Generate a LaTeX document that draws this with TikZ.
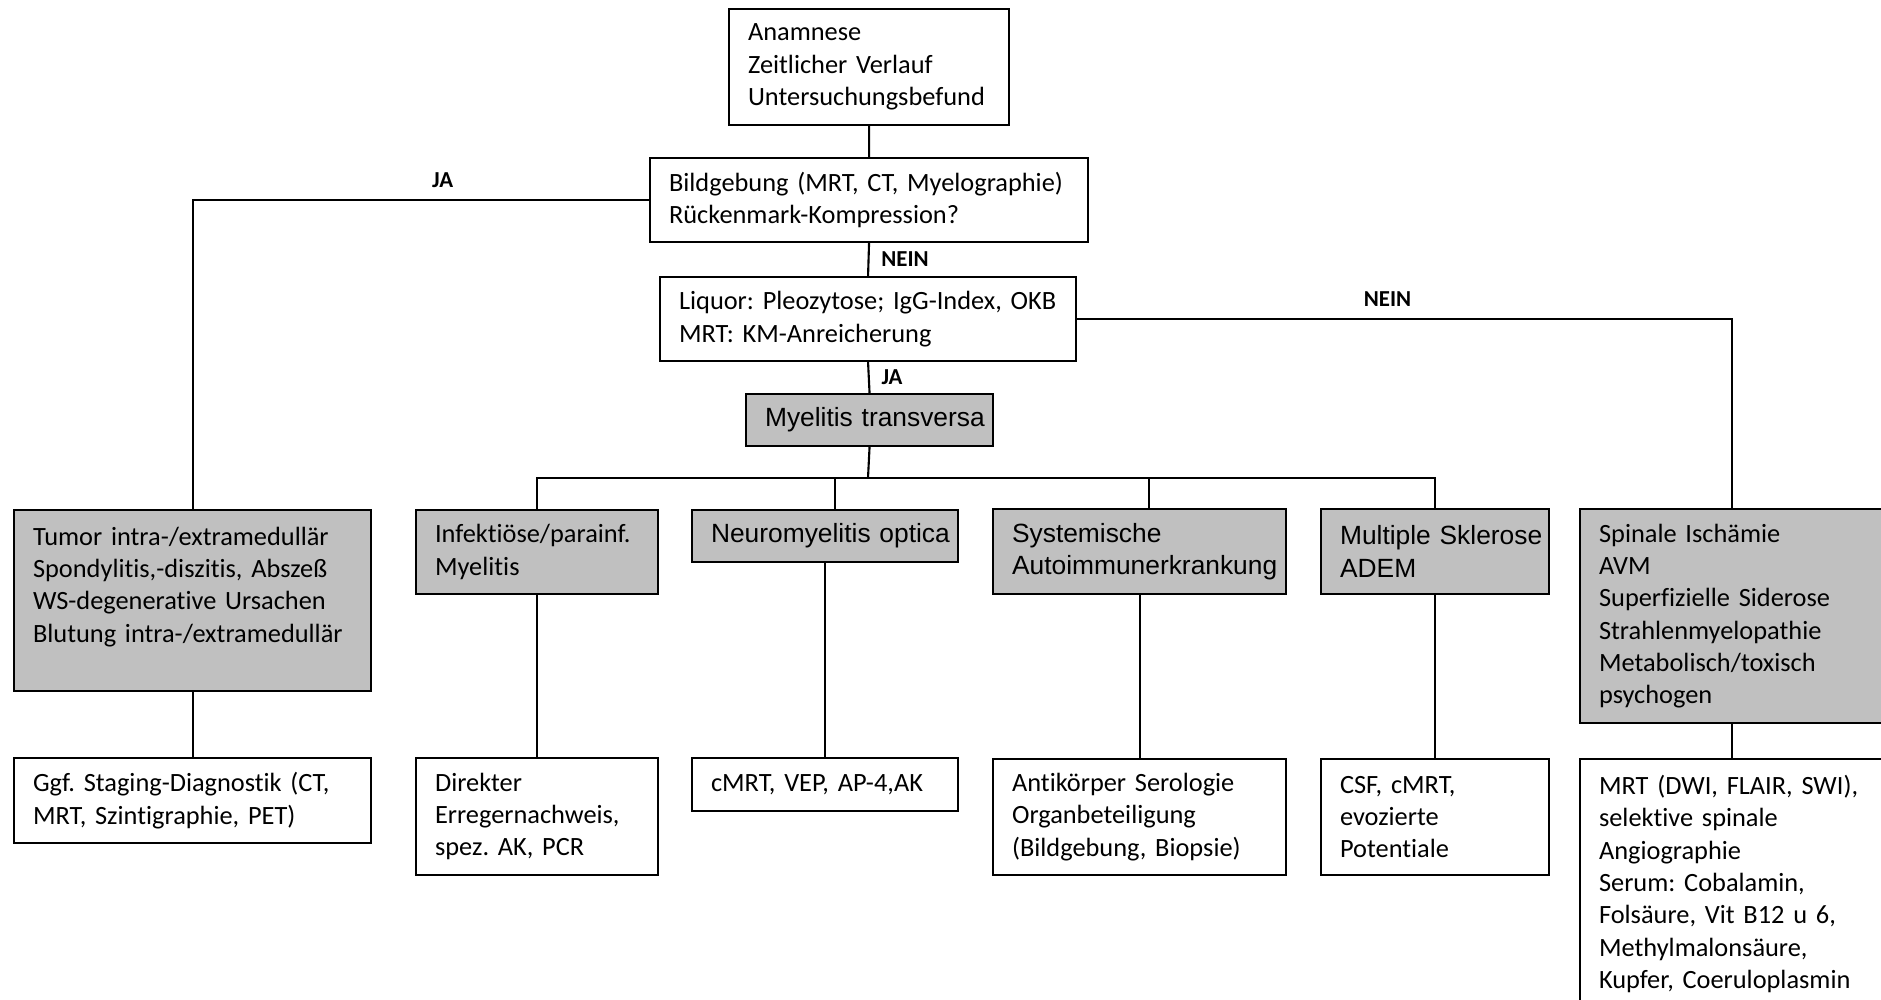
\documentclass[tikz,border=0pt]{standalone}
\usepackage{fontspec}
\setmainfont{Carlito}[Ligatures=NoCommon]
\newfontfamily\arialfont{Liberation Sans}
\definecolor{boxgray}{RGB}{192,192,192}
\frenchspacing

\begin{document}
\begin{tikzpicture}
\tikzstyle{whitebox} = [draw, line width=0.6pt, fill=white, anchor=north west, align=left, inner sep=0.02cm, font=\fontsize{7.5}{9.2}\selectfont, execute at begin node={\leftskip=0.17cm}]
\tikzstyle{greybox} = [whitebox, fill=boxgray]
\tikzstyle{greyarial} = [greybox, font=\arialfont\fontsize{7.5}{9.2}\selectfont]
\tikzstyle{answer} = [font=\fontsize{6.5}{8}\selectfont]
\tikzstyle{link} = [line width=0.6pt]
\useasboundingbox (0,0) rectangle (18.81,-10);
% diagnostic steps
\node[whitebox, text width=2.76cm, minimum height=1.16cm] (anam) at (7.28,-0.08) {Anamnese\\ Zeitlicher Verlauf\\ Untersuchungsbefund};
\node[whitebox, text width=4.34cm, minimum height=0.84cm] (bild) at (6.49,-1.57) {Bildgebung (MRT, CT, Myelographie)\\ Rückenmark-Kompression?};
\node[whitebox, text width=4.12cm, minimum height=0.84cm] (liq) at (6.59,-2.76) {Liquor: Pleozytose; IgG-Index, OKB\\ MRT: KM-Anreicherung};
\node[greyarial, text width=2.43cm, minimum height=0.52cm] (myel) at (7.45,-3.93) {Myelitis transversa};
% differential diagnoses
\node[greybox, text width=3.53cm, minimum height=1.81cm] (tumor) at (0.13,-5.09) {Tumor intra-/extramedullär\\ Spondylitis,-diszitis, Abszeß\\ WS-degenerative Ursachen\\ Blutung intra-/extramedullär\\ \mbox{}};
\node[greybox, text width=2.38cm, minimum height=0.84cm] (infekt) at (4.15,-5.09) {Infektiöse/parainf.\\ Myelitis};
\node[greyarial, text width=2.62cm, minimum height=0.52cm] (neuro) at (6.91,-5.09) {Neuromyelitis optica};
\node[greyarial, text width=2.89cm, minimum height=0.85cm] (sys) at (9.92,-5.08) {Systemische\\ Autoimmunerkrankung};
\node[greyarial, text width=2.24cm, minimum height=0.85cm] (ms) at (13.20,-5.08) {Multiple Sklerose\\ ADEM};
\node[greybox, text width=3.00cm, minimum height=2.14cm] (spinal) at (15.79,-5.08) {Spinale Ischämie\\ AVM\\ Superfizielle Siderose\\ Strahlenmyelopathie\\ Metabolisch/toxisch\\ psychogen};
% further diagnostics
\node[whitebox, text width=3.53cm, minimum height=0.85cm] (ggf) at (0.13,-7.57) {Ggf. Staging-Diagnostik (CT,\\ MRT, Szintigraphie, PET)};
\node[whitebox, text width=2.38cm, minimum height=1.17cm] (direkt) at (4.15,-7.57) {Direkter\\ Erregernachweis,\\ spez. AK, PCR};
\node[whitebox, text width=2.62cm, minimum height=0.53cm] (cmrt) at (6.91,-7.57) {cMRT, VEP, AP-4,AK};
\node[whitebox, text width=2.89cm, minimum height=1.16cm] (anti) at (9.92,-7.58) {Antikörper Serologie\\ Organbeteiligung\\ (Bildgebung, Biopsie)};
\node[whitebox, text width=2.24cm, minimum height=1.16cm] (csf) at (13.20,-7.58) {CSF, cMRT,\\ evozierte\\ Potentiale};
\node[whitebox, text width=3.00cm, minimum height=2.50cm] (mrt) at (15.79,-7.58) {MRT (DWI, FLAIR, SWI),\\ selektive spinale\\ Angiographie\\ Serum: Cobalamin,\\ Folsäure, Vit B12 u 6,\\ Methylmalonsäure,\\ Kupfer, Coeruloplasmin};
% connections
\coordinate (bus) at (8.68,-4.78);
\draw[link] (anam.south) -- (bild.north);
\draw[link] (bild.west) -| node[answer, above, pos=0.226] (ja1) {\bf JA} (tumor.north);
\draw[link] (bild.south) -- node[answer, right] (nein1) {\bf NEIN} (liq.north);
\draw[link] (liq.east) -| node[answer, above, pos=0.237] (nein2) {\bf NEIN} (spinal.north);
\draw[link] (liq.south) -- node[answer, right] (ja2) {\bf JA} (myel.north);
\draw[link] (myel.south) -- (bus);
\draw[link] (infekt.north) |- (bus) -| (ms.north);
\draw[link] ([xshift=0.1cm]neuro.north) |- (bus);
\draw[link] ([xshift=0.09cm]sys.north) |- (bus);
\draw[link] (tumor.south) -- (ggf.north);
\draw[link] (infekt.south) -- (direkt.north);
\draw[link] (neuro.south) -- (cmrt.north);
\draw[link] (sys.south) -- (anti.north);
\draw[link] (ms.south) -- (csf.north);
\draw[link] (spinal.south) -- (mrt.north);
\end{tikzpicture}
\end{document}
